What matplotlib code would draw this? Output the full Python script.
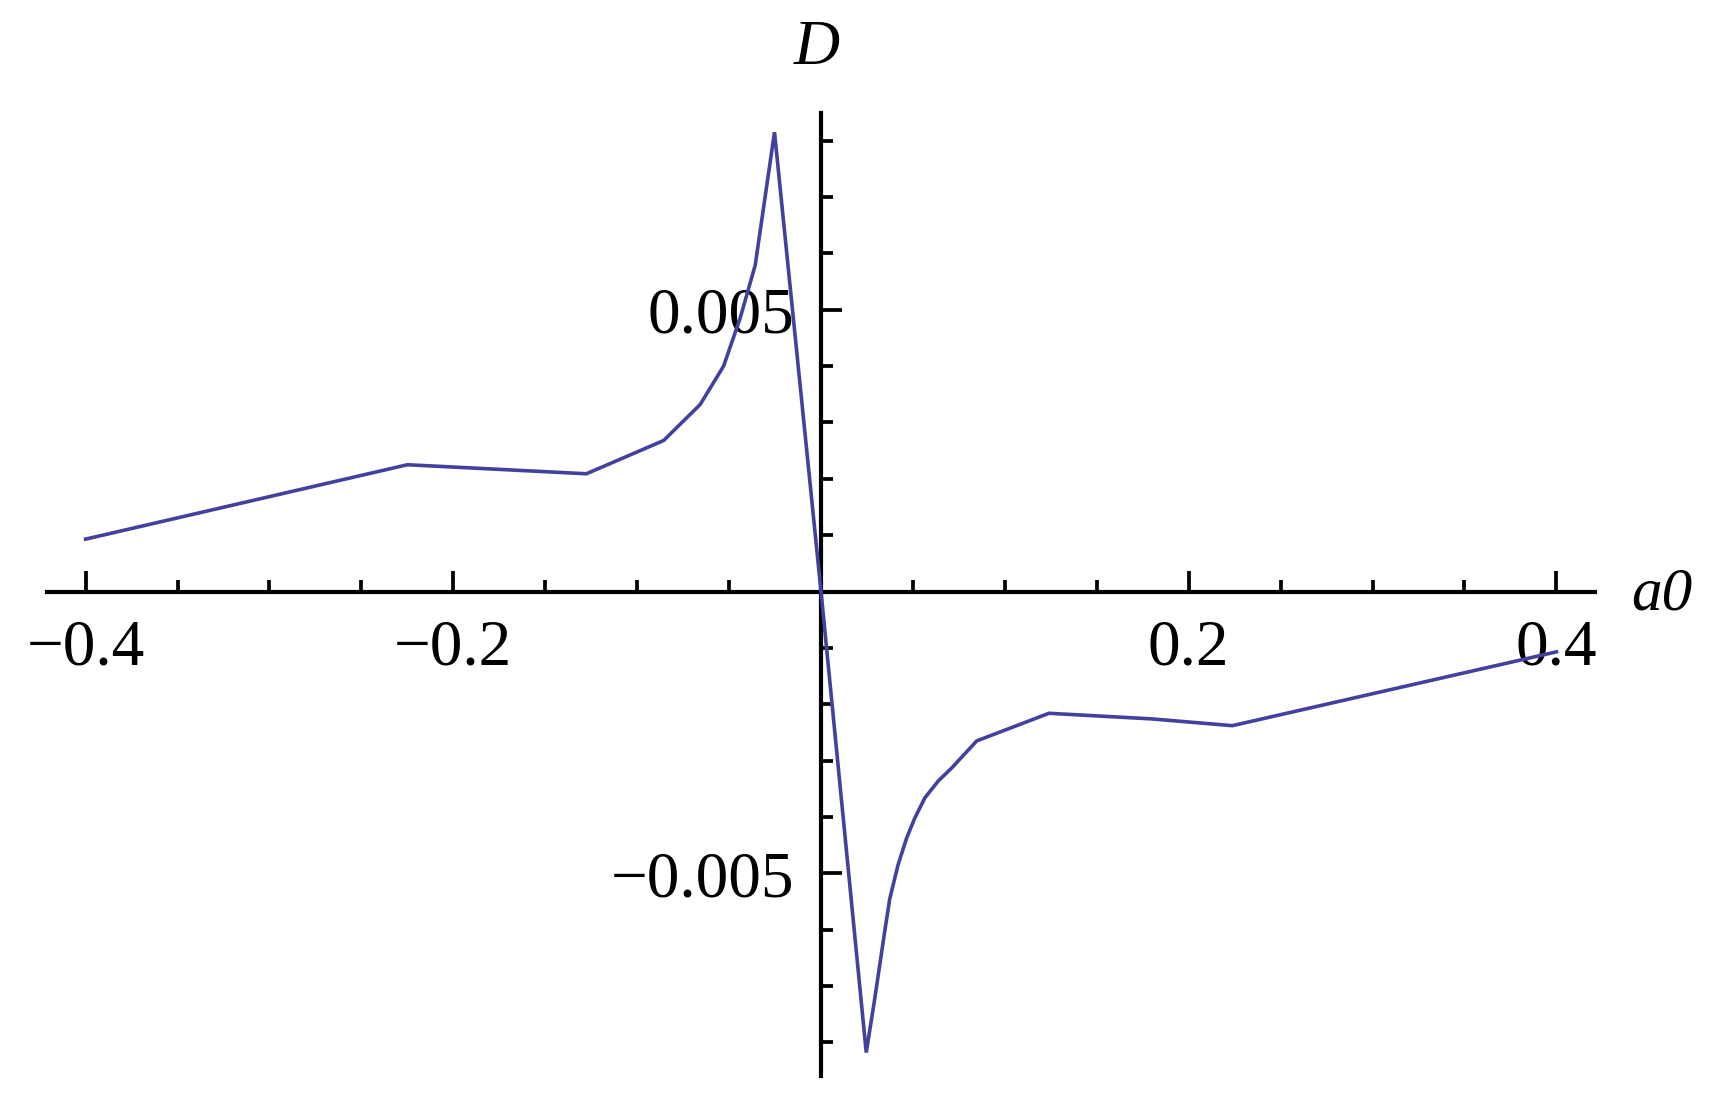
import matplotlib
matplotlib.use("Agg")
import matplotlib.pyplot as plt
from matplotlib.ticker import FixedLocator, NullFormatter

# ---- data ----
a0_left = [-0.4, -0.225, -0.1276, -0.0856, -0.0657, -0.053, -0.044, -0.0358, -0.0253, 0.0]
D_left = [0.00093, 0.00225, 0.00209, 0.00268, 0.00332, 0.0040, 0.00485, 0.00579, 0.00815, 0.0]
a0_right = [0.0246, 0.0292, 0.0346, 0.0374, 0.0419, 0.0465, 0.051, 0.0565, 0.0638, 0.0711,
            0.0847, 0.124, 0.18, 0.2237, 0.4]
D_right = [-0.00818, -0.00723, -0.00604, -0.00545, -0.00485, -0.00438, -0.00402, -0.00366,
           -0.00336, -0.00313, -0.00265, -0.00216, -0.00226, -0.00238, -0.00107]

x_major = [-0.4, -0.2, 0.2, 0.4]
x_major_labels = ["\u22120.4", "\u22120.2", "0.2", "0.4"]
x_minor = [-0.35, -0.3, -0.25, -0.15, -0.1, -0.05, 0.05, 0.1, 0.15, 0.25, 0.3, 0.35]
y_major = [-0.005, 0.005]
y_major_labels = ["\u22120.005", "0.005"]
y_minor = [-0.008, -0.007, -0.006, -0.004, -0.003, -0.002, -0.001,
           0.001, 0.002, 0.003, 0.004, 0.006, 0.007, 0.008]

xs = a0_left + a0_right
ys = D_left + D_right

plt.rcParams['font.family'] = ['Liberation Serif', 'DejaVu Serif']

fig = plt.figure(figsize=(17.16, 11.02), dpi=100)
ax = fig.add_axes([0.0274, 0.0234, 0.9021, 0.8745])

ax.plot(xs, ys, color=(0.26, 0.26, 0.62), lw=2.6, solid_joinstyle='miter', zorder=3)

ax.set_xlim(-0.421, 0.421)
ax.set_ylim(-0.0086, 0.0085)

for s in ['top', 'right']:
    ax.spines[s].set_visible(False)
ax.spines['left'].set_position(('data', 0))
ax.spines['bottom'].set_position(('data', 0))
for s in ['left', 'bottom']:
    ax.spines[s].set_linewidth(3.0)
    ax.spines[s].set_color('black')

ax.xaxis.set_major_locator(FixedLocator(x_major))
ax.xaxis.set_minor_locator(FixedLocator(x_minor))
ax.set_xticklabels(x_major_labels)
ax.yaxis.set_major_locator(FixedLocator(y_major))
ax.yaxis.set_minor_locator(FixedLocator(y_minor))
ax.set_yticklabels(y_major_labels)
ax.xaxis.set_minor_formatter(NullFormatter())
ax.yaxis.set_minor_formatter(NullFormatter())

ax.tick_params(axis='both', which='major', direction='in', length=15, width=2.7,
               labelsize=47, colors='black')
ax.tick_params(axis='both', which='minor', direction='in', length=8.5, width=2.7)
ax.tick_params(axis='x', which='major', pad=20)
ax.tick_params(axis='y', which='major', pad=19)

ax.annotate('D', xy=(0, 1), xycoords=('data', 'axes fraction'),
            xytext=(-3, 46), textcoords='offset points',
            ha='center', va='center', fontsize=46, fontstyle='italic')
ax.annotate('a0', xy=(1, 0), xycoords=('axes fraction', 'data'),
            xytext=(26, -2), textcoords='offset points',
            ha='left', va='center', fontsize=44, fontstyle='italic')

ax.patch.set_visible(False)
fig.savefig('out.png', dpi=100, facecolor='white')
